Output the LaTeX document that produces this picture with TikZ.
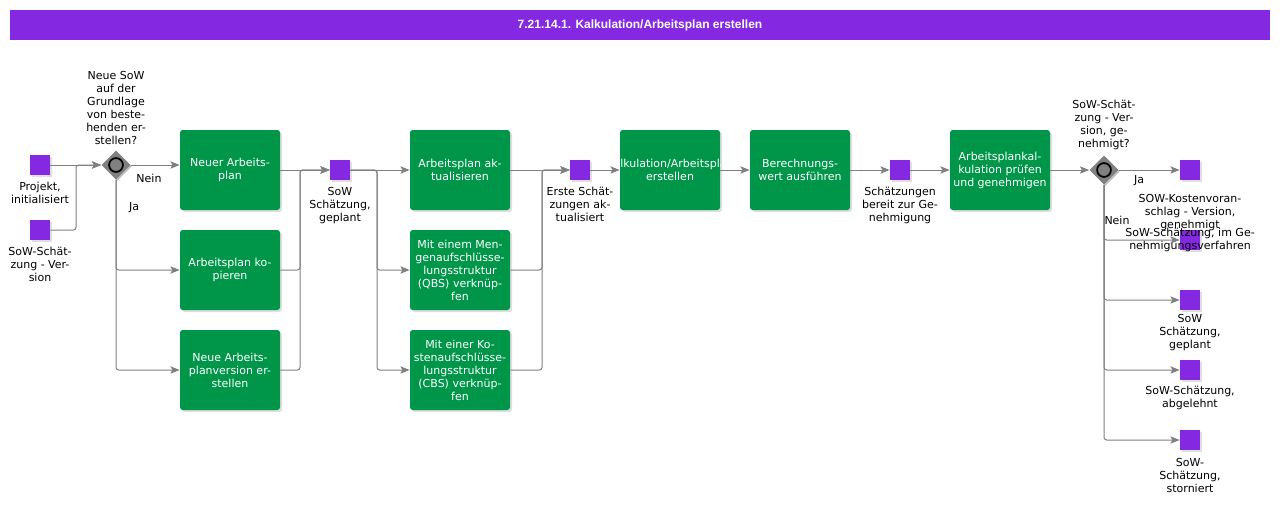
\documentclass[tikz,border=0pt]{standalone}
\usepackage{fontspec}
\setmainfont{DejaVu Sans}
\newfontfamily\titlefont{Liberation Sans}
\usetikzlibrary{shapes.geometric,arrows.meta,shadows}
\definecolor{evpurple}{HTML}{8428E2}
\definecolor{taskgreen}{HTML}{00964A}
\definecolor{linegray}{HTML}{808080}

\begin{document}
\begin{tikzpicture}[x=0.75pt, y=-0.75pt,
  every node/.style={font=\fontsize{8.25pt}{9.75pt}\selectfont},
  task/.style={rectangle, rounded corners=2pt, fill=taskgreen, text=white, align=center,
    minimum width=75pt, minimum height=60pt, inner sep=1pt,
    drop shadow={shadow xshift=1.5pt, shadow yshift=-1.5pt, opacity=0.25}},
  event/.style={rectangle, fill=evpurple, minimum size=15pt, inner sep=0pt,
    drop shadow={shadow xshift=1.5pt, shadow yshift=-1.5pt, opacity=0.25}},
  gateway/.style={diamond, fill=linegray, minimum size=21.75pt, inner sep=0pt,
    drop shadow={shadow xshift=1pt, shadow yshift=-1pt, opacity=0.5},
    path picture={\draw [line width=1.3pt, fill=linegray] (path picture bounding box.center) circle (5.2pt);}},
  evlabel/.style={align=center, inner sep=1pt},
  label distance=4pt,
  flow/.style={draw=linegray, line width=0.75pt, rounded corners=2pt,
    -{Stealth[length=7pt, width=5.5pt, inset=1.5pt]}},
]
\useasboundingbox (0,0) rectangle (1280,507);

% title bar
\node (title) at (640,25) [fill=evpurple, minimum width=945pt, minimum height=22.5pt, inner sep=0pt,
  text=white, font=\titlefont\bfseries\fontsize{9pt}{11pt}\selectfont]
  {7.21.14.1. Kalkulation/Arbeitsplan erstellen};

% start events
\node (ev1) at (40,165) [event, label={[evlabel]below:{Projekt,\\initialisiert}}] {};
\node (ev2) at (40,230) [event, label={[evlabel]below:{SoW-Schät-\\zung - Ver-\\sion}}] {};

% first gateway
\node (gw1) at (116,165) [gateway, label={[evlabel, label distance=3pt]above:{Neue SoW\\auf der\\Grundlage\\von beste-\\henden er-\\stellen?}}] {};
\node (lnein1) at (149,178) {Nein};
\node (lja1) at (134,208) {Ja};

% tasks, first column
\node (t1) at (230,170) [task] {Neuer Arbeits-\\plan};
\node (t2) at (230,270) [task] {Arbeitsplan ko-\\pieren};
\node (t3) at (230,370) [task] {Neue Arbeits-\\planversion er-\\stellen};

\node (ev3) at (340,170) [event, label={[evlabel]below:{SoW\\Schätzung,\\geplant}}] {};

% tasks, second column
\node (t4) at (460,170) [task] {Arbeitsplan ak-\\tualisieren};
\node (t5) at (460,270) [task] {Mit einem Men-\\genaufschlüsse-\\lungsstruktur\\(QBS) verknüp-\\fen};
\node (t6) at (460,370) [task] {Mit einer Ko-\\stenaufschlüsse-\\lungsstruktur\\(CBS) verknüp-\\fen};

\node (ev4) at (580,170) [event, label={[evlabel]below:{Erste Schät-\\zungen ak-\\tualisiert}}] {};

\node (t7) at (670,170) [task] {};
\begin{scope}
\clip (t7.north west) rectangle (t7.south east);
\node (t7text) at (t7) [text=white, align=center] {Kalkulation/Arbeitsplan\\erstellen};
\end{scope}
\node (t8) at (800,170) [task] {Berechnungs-\\wert ausführen};

\node (ev5) at (900,170) [event, label={[evlabel]below:{Schätzungen\\bereit zur Ge-\\nehmigung}}] {};

\node (t9) at (1000,170) [task] {Arbeitsplankal-\\kulation prüfen\\und genehmigen};

% second gateway
\node (gw2) at (1104,170) [gateway, label={[evlabel, label distance=3pt]above:{SoW-Schät-\\zung - Ver-\\sion, ge-\\nehmigt?}}] {};
\node (lja2) at (1139,181) {Ja};
\node (lnein2) at (1117,220) {Nein};

% end events
\node (out1) at (1190,170) [event, label={[evlabel, label distance=9pt]below:{SOW-Kostenvoran-\\schlag - Version,\\genehmigt}}] {};
\node (out2) at (1190,240) [event, label={[evlabel, label distance=0pt]center:{SoW-Schätzung, im Ge-\\nehmigungsverfahren}}] {};
\node (out3) at (1190,300) [event, label={[evlabel, label distance=1.5pt]below:{SoW\\Schätzung,\\geplant}}] {};
\node (out4) at (1190,370) [event, label={[evlabel, label distance=3pt]below:{SoW-Schätzung,\\abgelehnt}}] {};
\node (out5) at (1190,440) [event, label={[evlabel, label distance=5pt]below:{SoW-\\Schätzung,\\storniert}}] {};

% connectors
\coordinate (j1) at (76,165);
\coordinate (m1) at (300,170);
\coordinate (b1) at (377,170);
\coordinate (m2) at (542,170);
\draw [flow] (ev1) -- (gw1);
\draw [flow] (ev2) -| (j1) -- (gw1);
\draw [flow] (gw1) -- (gw1 -| t1.west);
\draw [flow] (gw1) |- (t2);
\draw [flow] (gw1) |- (t3);
\draw [flow] (t1) -- (ev3);
\draw [flow] (t2) -| (m1) -- (ev3);
\draw [flow] (t3) -| (m1) -- (ev3);
\draw [flow] (ev3) -- (t4);
\draw [flow] (ev3) -- (b1) |- (t5);
\draw [flow] (ev3) -- (b1) |- (t6);
\draw [flow] (t4) -- (ev4);
\draw [flow] (t5) -| (m2) -- (ev4);
\draw [flow] (t6) -| (m2) -- (ev4);
\draw [flow] (ev4) -- (t7);
\draw [flow] (t7) -- (t8);
\draw [flow] (t8) -- (ev5);
\draw [flow] (ev5) -- (t9);
\draw [flow] (t9) -- (gw2);
\draw [flow] (gw2) -- (out1);
\draw [flow] (gw2) |- (out2);
\draw [flow] (gw2) |- (out3);
\draw [flow] (gw2) |- (out4);
\draw [flow] (gw2) |- (out5);
\end{tikzpicture}
\end{document}
